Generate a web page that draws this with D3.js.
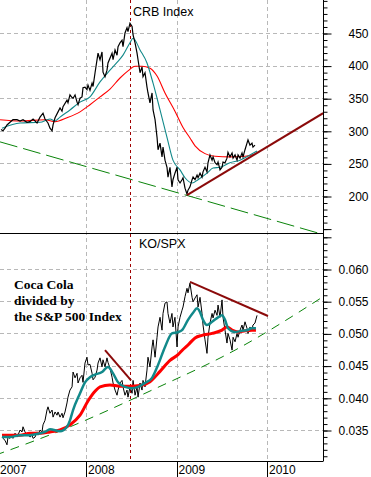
<!DOCTYPE html>
<html>
<head>
<meta charset="utf-8">
<script src="https://cdn.jsdelivr.net/npm/d3@7"></script>
<style>
  body { margin: 0; background: #fff; }
  svg { display: block; }
</style>
</head>
<body>
<div id="viz"></div>
<script>
// CRB Index (time in decimal years, value)
const crbPrice = [
  [2007.061,302],[2007.083,300],[2007.105,304],[2007.127,309],[2007.160,313],[2007.193,317],[2007.238,317],[2007.271,315],
  [2007.304,317],[2007.348,313],[2007.381,314],[2007.415,318],[2007.459,312],[2007.492,321],[2007.525,327],[2007.547,318],
  [2007.580,312],[2007.602,304],[2007.625,300],[2007.636,309],[2007.658,320],[2007.691,329],[2007.713,335],[2007.735,330],
  [2007.746,337],[2007.790,347],[2007.801,343],[2007.823,355],[2007.846,351],[2007.857,350],[2007.879,355],[2007.901,344],
  [2007.912,340],[2007.934,350],[2007.956,352],[2007.967,366],[2007.989,367],[2008.011,363],[2008.022,370],[2008.044,362],
  [2008.067,373],[2008.078,368],[2008.100,389],[2008.133,419],[2008.155,409],[2008.177,421],[2008.188,390],[2008.210,383],
  [2008.232,393],[2008.243,404],[2008.288,419],[2008.299,409],[2008.321,424],[2008.343,416],[2008.354,429],[2008.376,435],
  [2008.398,439],[2008.409,429],[2008.431,450],[2008.453,458],[2008.464,452],[2008.486,465],[2008.509,460],[2008.520,447],
  [2008.542,435],[2008.564,419],[2008.575,409],[2008.597,389],[2008.619,398],[2008.630,383],[2008.652,389],[2008.674,367],
  [2008.685,358],[2008.707,343],[2008.730,358],[2008.741,332],[2008.763,317],[2008.785,290],[2008.796,271],[2008.818,281],
  [2008.840,260],[2008.851,275],[2008.873,255],[2008.895,244],[2008.906,229],[2008.928,244],[2008.950,214],[2008.961,225],
  [2008.983,235],[2009.006,244],[2009.017,225],[2009.039,220],[2009.061,225],[2009.072,228],[2009.094,212],[2009.116,203],
  [2009.127,209],[2009.149,214],[2009.172,225],[2009.183,229],[2009.205,225],[2009.227,232],[2009.238,228],[2009.260,235],
  [2009.282,229],[2009.293,237],[2009.315,244],[2009.337,237],[2009.348,251],[2009.370,263],[2009.393,255],[2009.404,260],
  [2009.426,251],[2009.448,248],[2009.459,252],[2009.481,240],[2009.503,244],[2009.514,252],[2009.536,251],[2009.558,258],
  [2009.569,267],[2009.591,260],[2009.614,266],[2009.625,258],[2009.647,263],[2009.669,255],[2009.680,263],[2009.702,258],
  [2009.724,266],[2009.735,260],[2009.757,271],[2009.779,281],[2009.790,286],[2009.812,278],[2009.834,281],[2009.845,275],
  [2009.867,278]
];
const crbFastAvg = [
  [2007.072,304],[2007.271,312],[2007.492,313],[2007.602,318],[2007.658,315],[2007.713,321],[2007.823,332],[2007.934,344],
  [2008.044,352],[2008.155,375],[2008.265,393],[2008.343,405],[2008.409,416],[2008.486,435],[2008.520,442],[2008.597,424],
  [2008.674,404],[2008.741,373],[2008.818,332],[2008.895,290],[2008.961,255],[2009.039,240],[2009.094,228],[2009.172,220],
  [2009.238,225],[2009.337,235],[2009.404,243],[2009.481,244],[2009.591,251],[2009.702,255],[2009.812,263],[2009.890,269]
];
const crbSlowAvg = [
  [2007.050,317],[2007.271,315],[2007.547,317],[2007.658,314],[2007.790,320],[2007.934,329],[2008.044,340],[2008.155,352],
  [2008.265,364],[2008.376,381],[2008.464,392],[2008.542,399],[2008.619,399],[2008.707,396],[2008.785,384],[2008.873,358],
  [2008.983,330],[2009.072,305],[2009.149,289],[2009.205,277],[2009.315,265],[2009.426,261],[2009.591,260],[2009.757,261],
  [2009.867,264]
];
const crbSupport = [[2009.116,201.5],[2010.62,327]];
const crbLongTrend = [[2007.05,283],[2010.62,141]];

// KO / SPX ratio
const koRatio = [
  [2007.072,0.0339],[2007.083,0.0337],[2007.105,0.0334],[2007.127,0.0327],[2007.138,0.0339],[2007.160,0.0337],[2007.182,0.0342],
  [2007.193,0.0337],[2007.216,0.0345],[2007.238,0.0339],[2007.249,0.0342],[2007.271,0.0350],[2007.293,0.0347],[2007.304,0.0355],
  [2007.326,0.0347],[2007.348,0.0342],[2007.359,0.0345],[2007.381,0.0339],[2007.404,0.0342],[2007.415,0.0337],[2007.437,0.0339],
  [2007.459,0.0347],[2007.470,0.0342],[2007.492,0.0350],[2007.514,0.0347],[2007.525,0.0358],[2007.547,0.0365],[2007.569,0.0381],
  [2007.580,0.0386],[2007.602,0.0376],[2007.625,0.0381],[2007.636,0.0370],[2007.658,0.0378],[2007.680,0.0373],[2007.691,0.0378],
  [2007.713,0.0370],[2007.735,0.0376],[2007.746,0.0369],[2007.768,0.0378],[2007.790,0.0392],[2007.801,0.0401],[2007.823,0.0412],
  [2007.846,0.0417],[2007.857,0.0440],[2007.879,0.0431],[2007.901,0.0438],[2007.912,0.0423],[2007.934,0.0431],[2007.956,0.0435],
  [2007.967,0.0424],[2007.989,0.0454],[2008.011,0.0463],[2008.022,0.0451],[2008.044,0.0452],[2008.067,0.0438],[2008.078,0.0428],
  [2008.100,0.0432],[2008.122,0.0443],[2008.133,0.0454],[2008.155,0.0462],[2008.177,0.0448],[2008.188,0.0459],[2008.210,0.0448],
  [2008.232,0.0462],[2008.243,0.0455],[2008.265,0.0446],[2008.288,0.0432],[2008.299,0.0423],[2008.321,0.0412],[2008.343,0.0404],
  [2008.354,0.0412],[2008.376,0.0423],[2008.398,0.0427],[2008.409,0.0417],[2008.431,0.0404],[2008.453,0.0412],[2008.464,0.0401],
  [2008.486,0.0417],[2008.509,0.0407],[2008.520,0.0427],[2008.542,0.0404],[2008.564,0.0417],[2008.575,0.0401],[2008.597,0.0423],
  [2008.619,0.0412],[2008.630,0.0427],[2008.652,0.0417],[2008.674,0.0443],[2008.685,0.0463],[2008.707,0.0448],[2008.730,0.0479],
  [2008.741,0.0490],[2008.763,0.0463],[2008.785,0.0494],[2008.796,0.0510],[2008.818,0.0525],[2008.840,0.0505],[2008.851,0.0531],
  [2008.873,0.0547],[2008.895,0.0549],[2008.906,0.0531],[2008.928,0.0516],[2008.950,0.0531],[2008.961,0.0510],[2008.983,0.0525],
  [2009.006,0.0479],[2009.017,0.0510],[2009.039,0.0525],[2009.061,0.0536],[2009.072,0.0541],[2009.094,0.0557],[2009.116,0.0570],
  [2009.127,0.0563],[2009.149,0.0578],[2009.172,0.0556],[2009.183,0.0549],[2009.205,0.0555],[2009.227,0.0560],[2009.238,0.0541],
  [2009.260,0.0556],[2009.282,0.0531],[2009.293,0.0513],[2009.315,0.0490],[2009.337,0.0469],[2009.348,0.0494],[2009.370,0.0516],
  [2009.393,0.0531],[2009.404,0.0524],[2009.426,0.0536],[2009.448,0.0528],[2009.459,0.0544],[2009.481,0.0525],[2009.503,0.0552],
  [2009.514,0.0525],[2009.536,0.0505],[2009.558,0.0485],[2009.569,0.0500],[2009.591,0.0490],[2009.614,0.0474],[2009.625,0.0494],
  [2009.647,0.0487],[2009.669,0.0500],[2009.680,0.0494],[2009.702,0.0505],[2009.724,0.0513],[2009.735,0.0505],[2009.757,0.0518],
  [2009.779,0.0508],[2009.790,0.0500],[2009.812,0.0510],[2009.834,0.0505],[2009.845,0.0513],[2009.867,0.0516],[2009.890,0.0528]
];
const koFastAvg = [
  [2007.072,0.0339],[2007.160,0.0339],[2007.271,0.0342],[2007.381,0.0342],[2007.492,0.0345],[2007.547,0.0347],[2007.602,0.0351],
  [2007.713,0.0348],[2007.790,0.0355],[2007.823,0.0365],[2007.857,0.0381],[2007.934,0.0407],[2007.989,0.0424],[2008.044,0.0432],
  [2008.100,0.0436],[2008.177,0.0440],[2008.243,0.0448],[2008.299,0.0438],[2008.354,0.0424],[2008.431,0.0417],[2008.509,0.0415],
  [2008.575,0.0417],[2008.652,0.0423],[2008.730,0.0431],[2008.796,0.0451],[2008.873,0.0479],[2008.950,0.0500],[2009.017,0.0502],
  [2009.061,0.0505],[2009.127,0.0521],[2009.183,0.0532],[2009.227,0.0539],[2009.260,0.0533],[2009.293,0.0521],[2009.337,0.0513],
  [2009.393,0.0518],[2009.459,0.0525],[2009.503,0.0528],[2009.536,0.0521],[2009.569,0.0508],[2009.647,0.0502],[2009.724,0.0504],
  [2009.779,0.0505],[2009.834,0.0508],[2009.878,0.0508]
];
const koSlowAvg = [
  [2007.072,0.0342],[2007.271,0.0342],[2007.381,0.0345],[2007.492,0.0345],[2007.602,0.0347],[2007.713,0.0350],[2007.823,0.0358],
  [2007.934,0.0373],[2008.022,0.0395],[2008.100,0.0410],[2008.155,0.0417],[2008.265,0.0420],[2008.376,0.0418],[2008.486,0.0418],
  [2008.597,0.0419],[2008.707,0.0425],[2008.818,0.0441],[2008.928,0.0458],[2009.017,0.0467],[2009.072,0.0475],[2009.127,0.0482],
  [2009.205,0.0493],[2009.282,0.0497],[2009.393,0.0500],[2009.503,0.0505],[2009.558,0.0510],[2009.614,0.0505],[2009.680,0.0502],
  [2009.757,0.0504],[2009.834,0.0505],[2009.878,0.0505]
];
const koSupport = [[2007.0,0.0311],[2007.79,0.0353],[2008.73,0.0412],[2009.647,0.0474],[2010.62,0.0557]];
const koResist2008 = [[2008.210,0.0474],[2008.498,0.0427]];
const koResist2009 = [[2009.149,0.0580],[2010.011,0.0527]];

// marker and ticks
const crbPeakDate = 2008.486;
const years = [2007, 2008, 2009, 2010];
const crbLabels = [200, 250, 300, 350, 400, 450];
const koLabels = [0.035, 0.040, 0.045, 0.050, 0.055, 0.060];
const noteLines = ["Coca Cola", "divided by", "the S&P 500 Index"];

document.addEventListener("DOMContentLoaded", () => {
  const width = 371;
  const height = 477;
  const plotRight = 323;
  const topY0 = 0, topY1 = 233;
  const botY0 = 233, botY1 = 461;
  const crisp = v => Math.round(v) + 0.5;

  const svg = d3.select("#viz")
    .append("svg")
    .attr("width", width)
    .attr("height", height)
    .style("background-color", "#fff")
    .style("font-family", "'Liberation Sans', Arial, sans-serif");

  const x = d3.scaleLinear().domain([2007, 2010]).range([-4.5, 267]);
  const yTop = d3.scaleLinear().domain([200, 450]).range([196, 33]);
  const yBot = d3.scaleLinear().domain([0.035, 0.060]).range([430, 269]);

  const defs = svg.append("defs");
  defs.append("clipPath").attr("id", "clipTop").append("rect")
    .attr("x", 0).attr("y", topY0).attr("width", plotRight).attr("height", topY1 - topY0);
  defs.append("clipPath").attr("id", "clipBot").append("rect")
    .attr("x", 0).attr("y", botY0).attr("width", plotRight).attr("height", botY1 - botY0);

  // grid
  const grid = svg.append("g")
    .attr("stroke", "#b8b8b8")
    .attr("stroke-width", 1)
    .attr("stroke-dasharray", "4,3");
  grid.selectAll(".gt").data(crbLabels).join("line")
    .attr("x1", 0).attr("x2", plotRight)
    .attr("y1", d => crisp(yTop(d))).attr("y2", d => crisp(yTop(d)));
  grid.selectAll(".gb").data(koLabels).join("line")
    .attr("x1", 0).attr("x2", plotRight)
    .attr("y1", d => crisp(yBot(d))).attr("y2", d => crisp(yBot(d)));
  grid.selectAll(".gv").data(years.slice(1)).join("line")
    .attr("x1", d => crisp(x(d))).attr("x2", d => crisp(x(d)))
    .attr("y1", topY0).attr("y2", botY1);

  // peak marker
  svg.append("line")
    .attr("x1", crisp(x(crbPeakDate))).attr("x2", crisp(x(crbPeakDate)))
    .attr("y1", 0).attr("y2", botY1)
    .attr("stroke", "#a00000")
    .attr("stroke-width", 1)
    .attr("stroke-dasharray", "3,3");

  // top panel
  const lineTop = d3.line().x(d => x(d[0])).y(d => yTop(d[1]));
  const smoothTop = d3.line().x(d => x(d[0])).y(d => yTop(d[1])).curve(d3.curveMonotoneX);
  const gTop = svg.append("g").attr("clip-path", "url(#clipTop)").attr("fill", "none");

  gTop.append("path").attr("d", lineTop(crbLongTrend))
    .attr("stroke", "#0a840a").attr("stroke-width", 1).attr("stroke-dasharray", "18,6");
  gTop.append("path").attr("d", smoothTop(crbSlowAvg))
    .attr("stroke", "#ff0000").attr("stroke-width", 1.1);
  gTop.append("path").attr("d", smoothTop(crbFastAvg))
    .attr("stroke", "#12898a").attr("stroke-width", 1.1);
  gTop.append("path").attr("d", lineTop(crbPrice))
    .attr("stroke", "#000").attr("stroke-width", 1.2);
  gTop.append("path").attr("d", lineTop(crbSupport))
    .attr("stroke", "#8b0a0a").attr("stroke-width", 2);

  // bottom panel
  const lineBot = d3.line().x(d => x(d[0])).y(d => yBot(d[1]));
  const smoothBot = d3.line().x(d => x(d[0])).y(d => yBot(d[1])).curve(d3.curveMonotoneX);
  const gBot = svg.append("g").attr("clip-path", "url(#clipBot)").attr("fill", "none");

  gBot.append("path").attr("d", smoothBot(koSupport))
    .attr("stroke", "#0a840a").attr("stroke-width", 1).attr("stroke-dasharray", "9,7");
  gBot.append("path").attr("d", lineBot(koRatio))
    .attr("stroke", "#000").attr("stroke-width", 1);
  gBot.append("path").attr("d", smoothBot(koSlowAvg))
    .attr("stroke", "#ff0000").attr("stroke-width", 3);
  gBot.append("path").attr("d", smoothBot(koFastAvg))
    .attr("stroke", "#12898a").attr("stroke-width", 2.5);
  gBot.append("path").attr("d", lineBot(koResist2008))
    .attr("stroke", "#8b0a0a").attr("stroke-width", 2);
  gBot.append("path").attr("d", lineBot(koResist2009))
    .attr("stroke", "#8b0a0a").attr("stroke-width", 2);

  // frame lines
  const frame = svg.append("g").attr("stroke", "#000").attr("stroke-width", 1);
  frame.append("line").attr("x1", 0).attr("x2", plotRight).attr("y1", crisp(topY1)).attr("y2", crisp(topY1));
  frame.append("line").attr("x1", 0).attr("x2", plotRight).attr("y1", crisp(botY1)).attr("y2", crisp(botY1));
  frame.append("line").attr("x1", crisp(plotRight)).attr("x2", crisp(plotRight)).attr("y1", 0).attr("y2", crisp(botY1));

  // right axes
  const fixAxis = g => {
    g.select(".domain").remove();
    g.selectAll("text")
      .attr("x", 45)
      .attr("text-anchor", "end")
      .attr("fill", "#000")
      .style("font-size", "12px")
      .style("font-family", "'Liberation Sans', Arial, sans-serif");
  };

  svg.append("g").attr("transform", `translate(${crisp(plotRight)},0.5)`)
    .call(d3.axisRight(yTop).tickValues(d3.range(150, 501, 10)).tickSize(4).tickFormat(""))
    .call(fixAxis);
  svg.append("g").attr("transform", `translate(${crisp(plotRight)},0.5)`)
    .call(d3.axisRight(yTop).tickValues([150].concat(crbLabels)).tickSize(8).tickFormat(d3.format("d")))
    .call(fixAxis)
    .call(g => g.selectAll(".tick").filter(d => d === 150).select("text").remove());

  svg.append("g").attr("transform", `translate(${crisp(plotRight)},0.5)`)
    .call(d3.axisRight(yBot).tickValues(d3.range(31, 66).map(d => d / 1000)).tickSize(4).tickFormat(""))
    .call(fixAxis);
  svg.append("g").attr("transform", `translate(${crisp(plotRight)},0.5)`)
    .call(d3.axisRight(yBot).tickValues(koLabels.concat([0.065])).tickSize(8).tickFormat(d3.format(".3f")))
    .call(fixAxis)
    .call(g => g.selectAll(".tick").filter(d => d === 0.065).select("text").remove());

  // bottom time axis
  const xAxis = svg.append("g");
  xAxis.selectAll("line").data(years).join("line")
    .attr("x1", d => crisp(x(d))).attr("x2", d => crisp(x(d)))
    .attr("y1", botY1).attr("y2", height)
    .attr("stroke", "#000");
  xAxis.selectAll("text").data(years).join("text")
    .attr("x", d => Math.max(0, x(d) + 2))
    .attr("y", 474)
    .attr("font-size", 12)
    .attr("fill", "#000")
    .text(d => d);

  // titles
  svg.append("text").attr("x", 133).attr("y", 15.5)
    .attr("font-size", 12.5).attr("fill", "#000").text("CRB Index");
  svg.append("text").attr("x", 139).attr("y", 248)
    .attr("font-size", 12.5).attr("fill", "#000").text("KO/SPX");

  svg.append("g").selectAll("text").data(noteLines).join("text")
    .attr("x", 14)
    .attr("y", (d, i) => 289 + i * 16)
    .attr("font-family", "'Liberation Serif', 'Times New Roman', serif")
    .attr("font-weight", "bold")
    .attr("font-size", 13.5)
    .attr("fill", "#000")
    .text(d => d);
});
</script>
</body>
</html>
